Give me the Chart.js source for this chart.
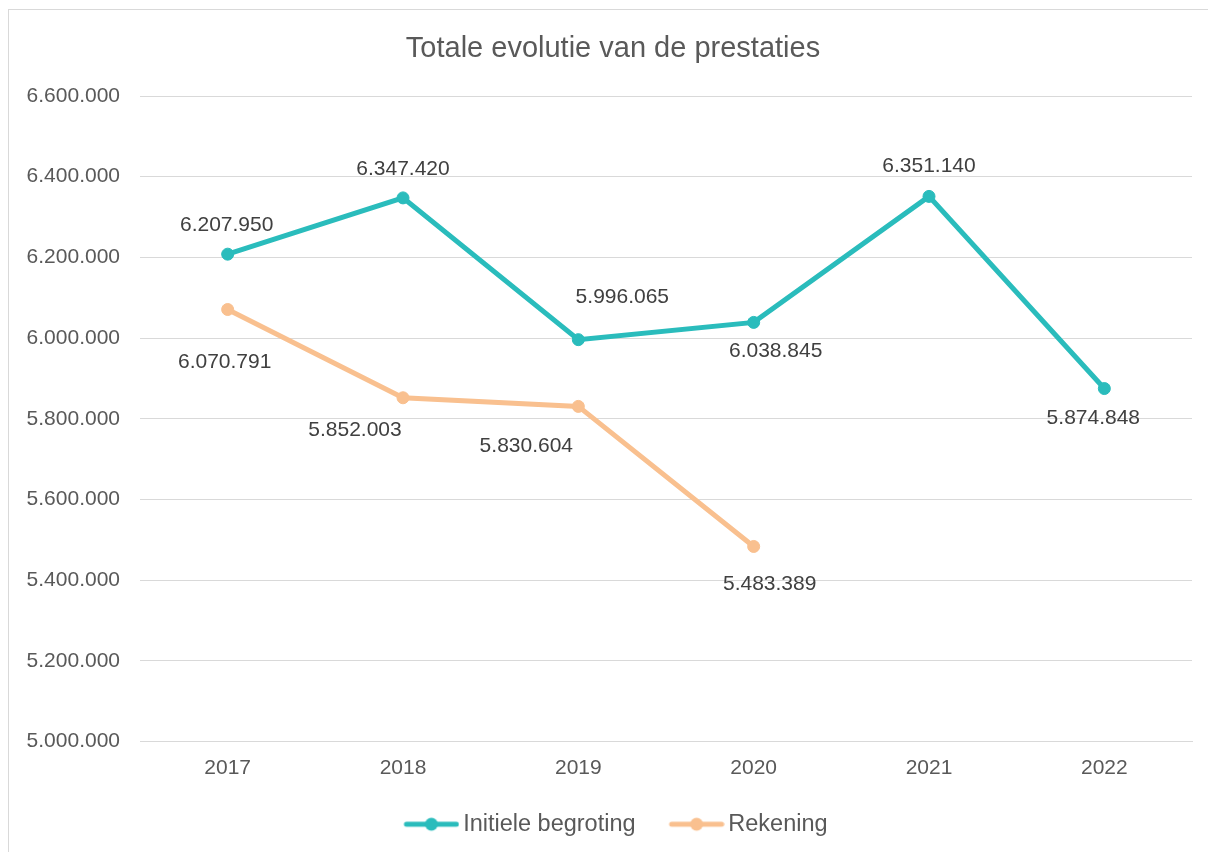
<!DOCTYPE html>
<html lang="nl">
<head>
    <meta charset="UTF-8">
    <title>Totale evolutie van de prestaties</title>
    <style>
        html, body {
            margin: 0;
            padding: 0;
            background: #fff;
        }
        .chart-box {
            position: relative;
            width: 1208px;
            height: 852px;
        }
    </style>
</head>
<body>
    <div class="chart-box">
        <canvas id="prestatiesChart"></canvas>
    </div>
    <script src="https://cdn.jsdelivr.net/npm/chart.js@4/dist/chart.umd.min.js"></script>
    <script>
        const chartTitle = 'Totale evolutie van de prestaties';
        const years = ['2017', '2018', '2019', '2020', '2021', '2022'];
        const initieleBegroting = [6207950, 6347420, 5996065, 6038845, 6351140, 5874848];
        const rekening = [6070791, 5852003, 5830604, 5483389, null, null];
        const yMin = 5000000;
        const yMax = 6600000;
        const yStep = 200000;

        const FONT = '"Liberation Sans", Arial, sans-serif';
        const TEAL = '#2abcbc';
        const ORANGE = '#f9c08f';

        // thousands with dots, like 6.207.950
        const fmt = v => String(Math.round(v)).replace(/\B(?=(\d{3})+(?!\d))/g, '.');

        // legend marker: short line with a dot, placed at the right of the canvas
        const legendMarker = (color) => {
            const c = document.createElement('canvas');
            c.width = 77;
            c.height = 16;
            const g = c.getContext('2d');
            g.strokeStyle = color;
            g.lineWidth = 5;
            g.lineCap = 'round';
            g.beginPath();
            g.moveTo(24, 8);
            g.lineTo(74, 8);
            g.stroke();
            g.fillStyle = color;
            g.beginPath();
            g.arc(49, 8, 6.5, 0, Math.PI * 2);
            g.fill();
            return c;
        };

        const framePlugin = {
            id: 'frame',
            beforeDraw(chart) {
                const ctx = chart.ctx;
                ctx.save();
                ctx.fillStyle = '#fff';
                ctx.fillRect(0, 0, chart.width, chart.height);
                ctx.strokeStyle = '#d9d9d9';
                ctx.lineWidth = 1;
                ctx.strokeRect(8.5, 9.5, chart.width + 50, chart.height + 50);
                ctx.restore();
            }
        };

        const titlePlugin = {
            id: 'plainTitle',
            afterDraw(chart) {
                const ctx = chart.ctx;
                ctx.save();
                ctx.font = '29px ' + FONT;
                ctx.fillStyle = '#595959';
                ctx.textAlign = 'center';
                ctx.textBaseline = 'alphabetic';
                ctx.fillText(chartTitle, 613, 57);
                ctx.restore();
            }
        };

        const valueLabels = {
            id: 'valueLabels',
            afterDatasetsDraw(chart) {
                const ctx = chart.ctx;
                ctx.save();
                ctx.font = '21px ' + FONT;
                ctx.fillStyle = '#404040';
                ctx.textAlign = 'center';
                ctx.textBaseline = 'middle';
                chart.data.datasets.forEach((ds, i) => {
                    chart.getDatasetMeta(i).data.forEach((pt, j) => {
                        const v = ds.data[j];
                        if (v === null || v === undefined) return;
                        const off = ds.labelOffsets[j];
                        ctx.fillText(fmt(v), pt.x + off[0], pt.y + off[1]);
                    });
                });
                ctx.restore();
            }
        };

        const markers = [legendMarker(TEAL), legendMarker(ORANGE)];

        new Chart(document.getElementById('prestatiesChart'), {
            type: 'line',
            data: {
                labels: years,
                datasets: [
                    {
                        label: 'Initiele begroting',
                        data: initieleBegroting,
                        borderColor: TEAL,
                        backgroundColor: TEAL,
                        pointBackgroundColor: TEAL,
                        borderWidth: 5,
                        pointRadius: 6,
                        pointBorderWidth: 1,
                        tension: 0,
                        labelOffsets: [[-1, -29], [0, -29], [44, -42], [22, 29], [0, -30], [-11, 30]]
                    },
                    {
                        label: 'Rekening',
                        data: rekening,
                        borderColor: ORANGE,
                        backgroundColor: ORANGE,
                        pointBackgroundColor: ORANGE,
                        borderWidth: 5,
                        pointRadius: 6,
                        pointBorderWidth: 1,
                        tension: 0,
                        labelOffsets: [[-3, 53], [-48, 32], [-52, 40], [16, 38]]
                    }
                ]
            },
            options: {
                responsive: true,
                maintainAspectRatio: false,
                animation: false,
                layout: {
                    padding: { top: 96, left: 26, right: 16, bottom: 6 }
                },
                plugins: {
                    title: { display: false },
                    tooltip: { enabled: false },
                    legend: {
                        position: 'bottom',
                        labels: {
                            usePointStyle: true,
                            pointStyleWidth: 61,
                            padding: 20,
                            color: '#595959',
                            font: { family: FONT, size: 23.5 },
                            generateLabels: (chart) => chart.data.datasets.map((ds, i) => ({
                                text: ds.label,
                                pointStyle: markers[i],
                                fillStyle: ds.borderColor,
                                strokeStyle: ds.borderColor,
                                lineWidth: 0,
                                fontColor: '#595959',
                                hidden: false,
                                datasetIndex: i
                            }))
                        }
                    }
                },
                scales: {
                    x: {
                        offset: true,
                        grid: { display: false, drawTicks: false },
                        border: { display: true, color: '#d9d9d9', width: 1 },
                        ticks: {
                            color: '#595959',
                            font: { family: FONT, size: 21 },
                            padding: 14
                        },
                        afterFit: (s) => { s.height = 51; }
                    },
                    y: {
                        min: yMin,
                        max: yMax,
                        grid: { color: '#d9d9d9', lineWidth: 1, drawTicks: false },
                        border: { display: false },
                        ticks: {
                            stepSize: yStep,
                            color: '#595959',
                            font: { family: FONT, size: 21 },
                            padding: 20,
                            callback: (v) => fmt(v)
                        },
                        afterFit: (s) => { s.width = 114; }
                    }
                }
            },
            plugins: [framePlugin, valueLabels, titlePlugin]
        });
    </script>
</body>
</html>
